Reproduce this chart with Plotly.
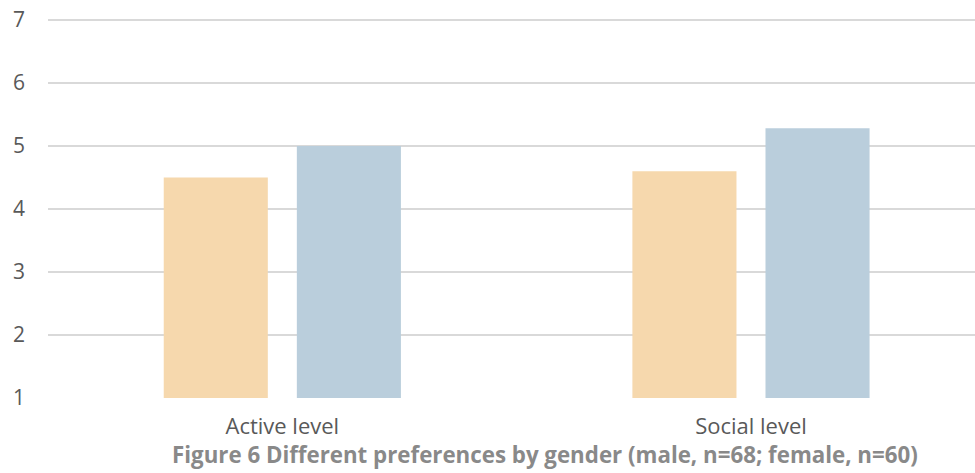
import plotly.graph_objects as go

categories = ["Active level", "Social level"]
male = [4.5, 4.6]
female = [5.0, 5.28]
y_ticks = [1, 2, 3, 4, 5, 6, 7]
title_text = "Figure 6 Different preferences by gender (male, n=68; female, n=60)"

W, H = 975, 473
ml, mr, mt, mb = 48, 0, 18, 75
FONT = "'Open Sans', sans-serif"

fig = go.Figure()
fig.add_trace(go.Bar(x=categories, y=male, name="male", marker=dict(color="#F6D8AD", line=dict(width=0))))
fig.add_trace(go.Bar(x=categories, y=female, name="female", marker=dict(color="#BACEDC", line=dict(width=0))))

fig.update_layout(
    width=W, height=H,
    margin=dict(l=ml, r=mr, t=mt, b=mb, pad=0),
    paper_bgcolor="white", plot_bgcolor="white",
    barmode="group", bargap=0.432, bargroupgap=0.218,
    showlegend=False,
    font=dict(family=FONT, color="#595959", size=21),
    xaxis=dict(type="category", range=[-0.5, 1.478], showgrid=False, showline=False,
               zeroline=False, ticks="", ticklabelstandoff=13,
               tickfont=dict(size=22, color="#595959")),
    yaxis=dict(range=[1, 7.032], tickvals=y_ticks, showgrid=True, gridcolor="#D9D9D9",
               gridwidth=2, zeroline=False, showline=False, ticks="",
               ticklabelstandoff=22, tickfont=dict(size=21, color="#595959")),
)
fig.add_annotation(
    text="<b>" + title_text + "</b>", xref="paper", yref="paper",
    x=(545 - ml) / (W - ml - mr), y=-(455 - (H - mb)) / (H - mt - mb),
    xanchor="center", yanchor="middle", showarrow=False,
    font=dict(size=22.3, color="#898989", family=FONT),
)
fig.write_html("out.html")
